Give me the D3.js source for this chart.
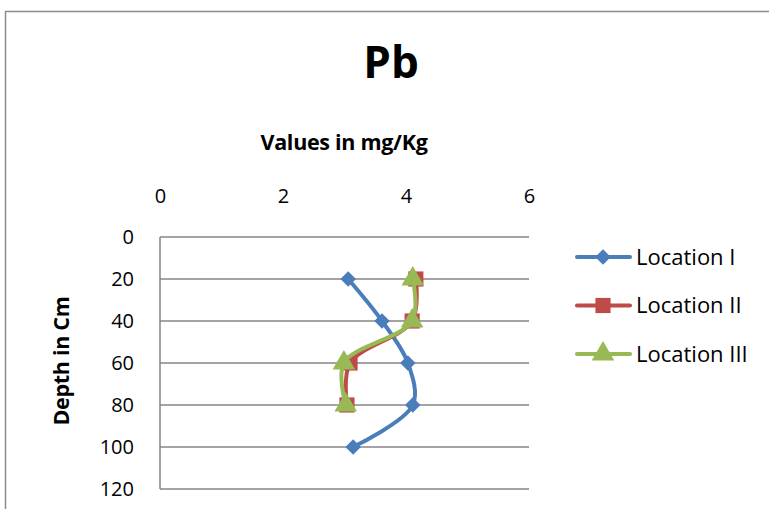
<!DOCTYPE html>
<html>
<head>
<meta charset="utf-8">
<script src="https://cdn.jsdelivr.net/npm/d3@7"></script>
<style>
body { margin: 0; background: #fff; }
text { font-family: "Open Sans", Lato, sans-serif; }
</style>
</head>
<body>
<div id="chart"></div>
<script>
var w = 769;
var h = 509;

var depths = [20, 40, 60, 80, 100];
var loc1 = [3.06, 3.61, 4.03, 4.11, 3.14];
var loc2 = [4.16, 4.10, 3.09, 3.04];
var loc3 = [4.11, 4.10, 2.99, 3.02];
var seriesNames = ["Location I", "Location II", "Location III"];
var xTicks = [0, 2, 4, 6];
var yTicks = [0, 20, 40, 60, 80, 100, 120];

var colors = ["#4A7EBB", "#BE4B48", "#98B954"];
var symbols = [d3.symbolSquare, d3.symbolSquare, d3.symbolTriangle];
var symSize = [120, 230, 220];
var symRot = [45, 0, 0];

var series = [loc1, loc2, loc3].map(function(vals, i) {
	return {
		name: seriesNames[i],
		points: vals.map(function(v, j) { return { x: v, d: depths[j] }; })
	};
});

var xScale = d3.scaleLinear().domain([0, 6]).range([160, 529]);
var yScale = d3.scaleLinear().domain([0, 120]).range([237, 489]);

//Create SVG element
var svg = d3.select("#chart")
		.append("svg")
		.attr("width", w)
		.attr("height", h);

// outer frame (runs off the picture on right and bottom)
svg.append("rect")
	.attr("x", 5.5).attr("y", 11.5)
	.attr("width", w + 10).attr("height", h + 10)
	.attr("fill", "none")
	.attr("stroke", "#8c8c8c")
	.attr("stroke-width", 1.5);

// title
svg.append("text")
	.attr("x", 391).attr("y", 78)
	.attr("text-anchor", "middle")
	.attr("font-size", "44px")
	.attr("font-weight", "bold")
	.text("Pb");

svg.append("text")
	.attr("x", 344).attr("y", 150)
	.attr("text-anchor", "middle")
	.attr("font-size", "21.5px")
	.attr("font-weight", "bold")
	.attr("letter-spacing", "-0.3px")
	.text("Values in mg/Kg");

svg.append("text")
	.attr("transform", "translate(69,361) rotate(-90)")
	.attr("text-anchor", "middle")
	.attr("font-size", "21.5px")
	.attr("font-weight", "bold")
	.attr("letter-spacing", "-0.3px")
	.text("Depth in Cm");

//gridlines
svg.append("g")
	.selectAll("line")
	.data(yTicks)
	.enter()
	.append("line")
	.attr("x1", 160)
	.attr("x2", 529)
	.attr("y1", function(d) { return yScale(d); })
	.attr("y2", function(d) { return yScale(d); })
	.attr("stroke", "#868686")
	.attr("stroke-width", 1.5);

svg.append("line")
	.attr("x1", 160).attr("x2", 160)
	.attr("y1", yScale(0)).attr("y2", yScale(120))
	.attr("stroke", "#868686")
	.attr("stroke-width", 1.5);

//axes labels
var xAxis = d3.axisTop(xScale).tickValues(xTicks).tickFormat(d3.format("d")).tickSize(0).tickPadding(0);
var gx = svg.append("g")
	.attr("transform", "translate(0,203)")
	.call(xAxis);
gx.select(".domain").remove();
gx.selectAll("text")
	.attr("font-family", "'Open Sans', Lato, sans-serif")
	.attr("font-size", "20px")
	.attr("fill", "#000");

var yAxis = d3.axisLeft(yScale).tickValues(yTicks).tickFormat(d3.format("d")).tickSize(0).tickPadding(0);
var gy = svg.append("g")
	.attr("transform", "translate(134,0)")
	.call(yAxis);
gy.select(".domain").remove();
gy.selectAll("text")
	.attr("font-family", "'Open Sans', Lato, sans-serif")
	.attr("font-size", "20px")
	.attr("fill", "#000");

//lines
var line = d3.line()
	.x(function(d) { return xScale(d.x); })
	.y(function(d) { return yScale(d.d); })
	.curve(d3.curveCatmullRom.alpha(0.5));

series.forEach(function(s, i) {
	svg.append("path")
		.attr("d", line(s.points))
		.attr("fill", "none")
		.attr("stroke", colors[i])
		.attr("stroke-width", 4)
		.attr("stroke-linecap", "round");
	svg.selectAll(".m" + i)
		.data(s.points)
		.enter()
		.append("path")
		.attr("class", "m" + i)
		.attr("transform", function(d) {
			return "translate(" + xScale(d.x) + "," + yScale(d.d) + ") rotate(" + symRot[i] + ")";
		})
		.attr("d", d3.symbol().type(symbols[i]).size(symSize[i]))
		.attr("fill", colors[i]);
});

//legend
var legend = svg.selectAll(".legend")
	.data(series)
	.enter()
	.append("g")
	.attr("class", "legend")
	.attr("transform", function(d, i) { return "translate(577," + (257 + i * 48.5) + ")"; });

legend.append("line")
	.attr("x1", 0).attr("x2", 53)
	.attr("stroke", function(d, i) { return colors[i]; })
	.attr("stroke-width", 4)
	.attr("stroke-linecap", "round");
legend.append("path")
	.attr("transform", function(d, i) { return "translate(26,0) rotate(" + symRot[i] + ")"; })
	.attr("d", function(d, i) { return d3.symbol().type(symbols[i]).size(symSize[i])(); })
	.attr("fill", function(d, i) { return colors[i]; });
legend.append("text")
	.attr("x", 59)
	.attr("y", 7.5)
	.attr("font-size", "22px")
	.text(function(d) { return d.name; });
</script>
</body>
</html>
